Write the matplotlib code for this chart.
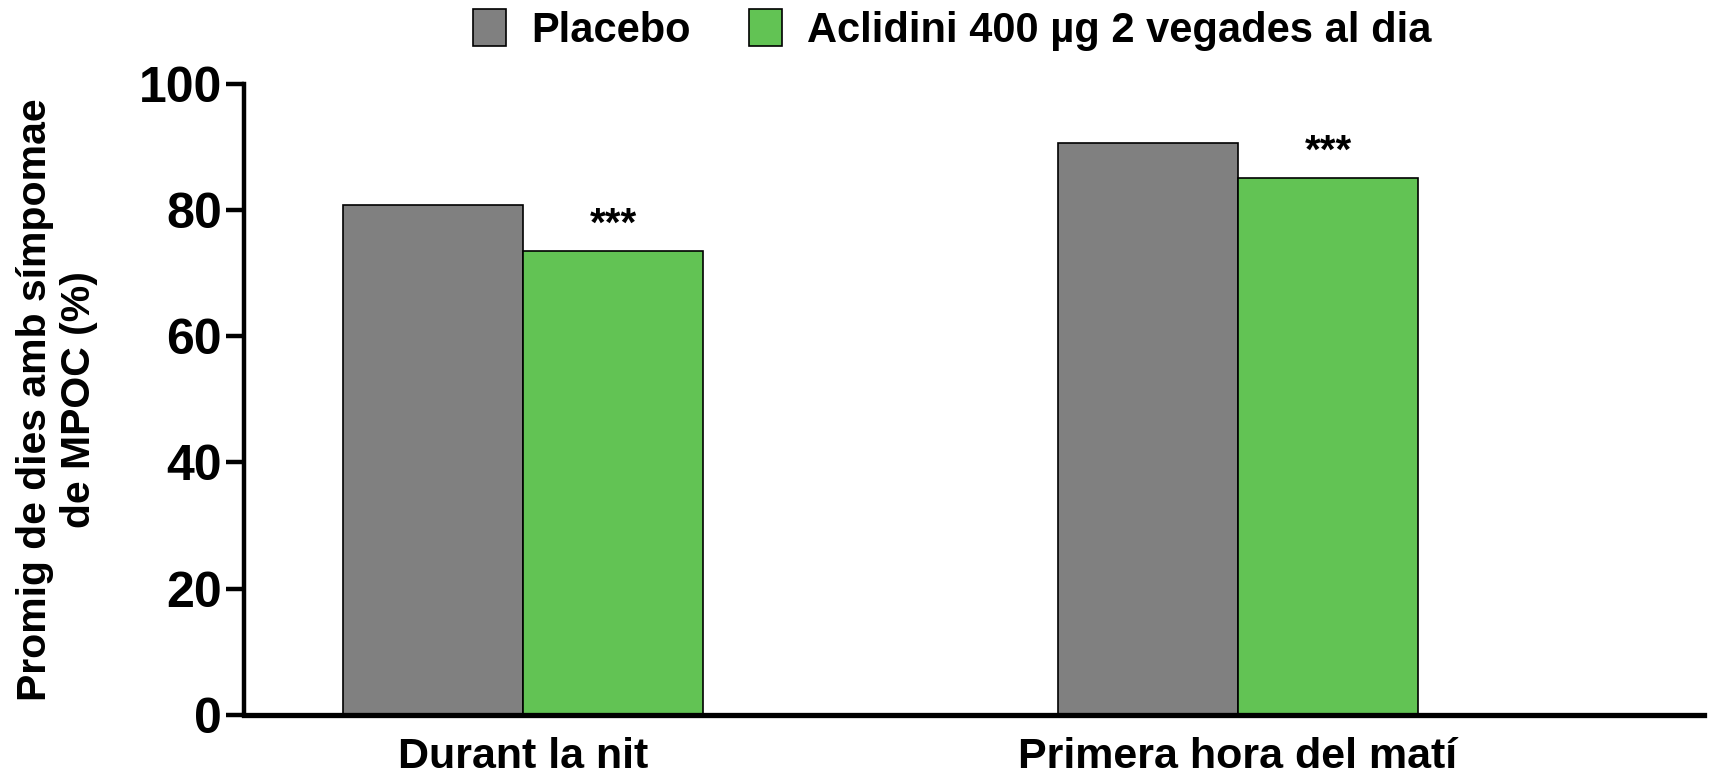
import matplotlib
matplotlib.use("Agg")
import matplotlib.pyplot as plt
import numpy as np
from matplotlib.patches import Patch

plt.rcParams["font.family"] = ["Liberation Sans", "DejaVu Sans"]
plt.rcParams["font.weight"] = "bold"

categories = ["Durant la nit", "Primera hora del matí"]
placebo = [80.8, 90.6]
aclidini = [73.5, 85.0]
series_labels = ["Placebo", "Aclidini 400 µg 2 vegades al dia"]
signif = ["***", "***"]
yticks = [0, 20, 40, 60, 80, 100]

GRAY = "#808080"
GREEN = "#62c354"

fig = plt.figure(figsize=(17.25, 7.78), dpi=100)
ax = fig.add_axes([0.1415, 0.081, 0.8465, 0.8115])

x = np.arange(len(categories))
w = 0.252
ax.bar(x - w / 2, placebo, w, color=GRAY, edgecolor="black", linewidth=1.2, label=series_labels[0])
bars = ax.bar(x + w / 2, aclidini, w, color=GREEN, edgecolor="black", linewidth=1.2, label=series_labels[1])

for rect, s in zip(bars, signif):
    ax.text(rect.get_x() + rect.get_width() / 2, rect.get_height() + 1.2, s,
            ha="center", va="bottom", fontsize=29, fontweight="bold")

ax.set_xlim(-0.39, 1.652)
ax.set_ylim(0, 100)
ax.set_yticks(yticks)
ax.set_yticklabels([str(t) for t in yticks], fontsize=36, fontweight="bold")
ax.set_xticks(x)
ax.set_xticklabels(categories, fontsize=31, fontweight="bold")
ax.tick_params(axis="x", length=0, pad=16)
ax.tick_params(axis="y", length=13, width=3.2, pad=3)

for side in ["top", "right"]:
    ax.spines[side].set_visible(False)
ax.spines["left"].set_linewidth(3.2)
ax.spines["bottom"].set_linewidth(3.8)

ax.set_ylabel("Promig de dies amb símpomae\nde MPOC (%)", fontsize=29.5, fontweight="bold",
              linespacing=1.2)
ax.yaxis.set_label_coords(-0.1, 0.5)

handles = [Patch(facecolor=GRAY, edgecolor="black", linewidth=1.2),
           Patch(facecolor=GREEN, edgecolor="black", linewidth=1.2)]
fig.legend(handles, series_labels, loc="center", bbox_to_anchor=(0.552, 0.962), ncol=2,
           frameon=False, prop={"size": 30, "weight": "bold"},
           handlelength=0.8, handleheight=1.0, handletextpad=0.6, columnspacing=1.4)

fig.savefig("out.png", dpi=100)
